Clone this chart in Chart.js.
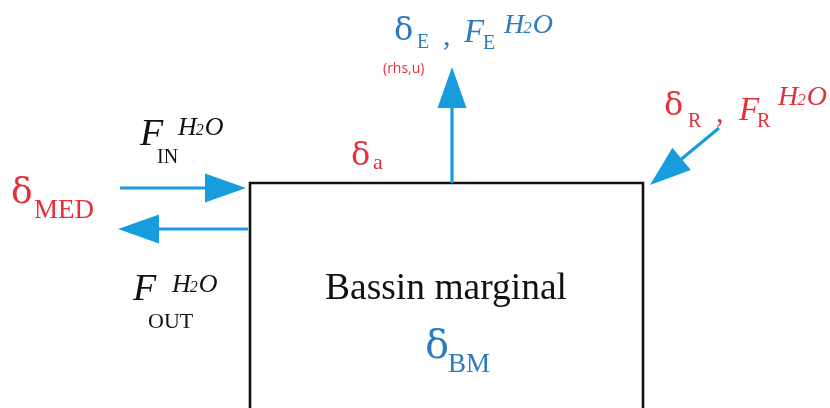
<!DOCTYPE html>
<html>
<head>
<meta charset="utf-8">
<script src="https://cdn.jsdelivr.net/npm/chart.js@4"></script>
<style>
  html, body { margin: 0; padding: 0; background: #fff; }
  #wrap { width: 830px; height: 408px; position: relative; }
</style>
</head>
<body>
<div id="wrap"><canvas id="diagram"></canvas></div>
<script>
// Diagram coordinates are in "picture units" (0..830 by 0..408, y downwards)
// mapped through the chart's own linear scales.

// basin box: top edge with both sides running down past the bottom
const boxX = [250, 250, 643, 643];
const boxY = [412, 183, 183, 412];

// water flux arrows (start -> tip)
const arrowNames = ['in', 'out', 'evap', 'river'];
const arrowX0 = [120, 248, 452, 719];
const arrowY0 = [188, 229, 183, 128];
const arrowX1 = [246, 118, 452, 650];
const arrowY1 = [188, 229, 67, 185];

// label pieces (text anchored at left / baseline)
const labelText  = ['δ', 'E', ',', 'F', 'E', 'H2O', '(rhs,u)',
                    'δ', 'R', ',', 'F', 'R', 'H2O',
                    'F', 'IN', 'H2O',
                    'δ', 'MED',
                    'F', 'H2O', 'OUT',
                    'δ', 'a',
                    'Bassin marginal', 'δ', 'BM'];
const labelX     = [394, 417, 443, 464, 483, 504, 383,
                    664, 688, 716, 739, 757, 778,
                    140, 157, 178,
                    11, 34,
                    133, 172, 148,
                    351, 373,
                    325, 425, 448];
const labelY     = [40, 48, 45, 42, 49, 33, 73,
                    115, 127, 122, 120, 127, 105,
                    145, 163, 135,
                    203, 218,
                    300, 292, 328,
                    165, 169,
                    299, 358, 372];
const labelSize  = [32, 20, 30, 33, 20, 28, 14,
                    32, 20, 30, 33, 20, 28,
                    38, 20, 26,
                    36, 27,
                    38, 26, 22,
                    32, 22,
                    37.5, 40, 27];
const labelItalic = [0, 0, 0, 1, 0, 1, 0,
                     0, 0, 0, 1, 0, 1,
                     1, 0, 1,
                     0, 0,
                     1, 1, 0,
                     0, 0,
                     0, 0, 0];
const labelColor = ['blue', 'blue', 'blue', 'blue', 'blue', 'blue', 'red',
                    'red', 'red', 'red', 'red', 'red', 'red',
                    'black', 'black', 'black',
                    'red', 'red',
                    'black', 'black', 'black',
                    'red', 'red',
                    'black', 'blue', 'blue'];

const COLORS = { blue: '#2a7bbf', red: '#e3303b', black: '#111111', arrow: '#179ddd' };
const SERIF = '"Liberation Serif", "Times New Roman", serif';

// draws H2O with a small "2" between the letters
function drawWater(ctx, x, y, size) {
    const big = 'italic ' + size + 'px ' + SERIF;
    const small = 'italic ' + Math.round(size * 0.6) + 'px ' + SERIF;
    ctx.font = big; ctx.fillText('H', x, y); x += ctx.measureText('H').width;
    ctx.font = small; ctx.fillText('2', x - 1, y); x += ctx.measureText('2').width;
    ctx.font = big; ctx.fillText('O', x, y);
}

const diagramPlugin = {
    id: 'diagram',
    afterDatasetsDraw(chart) {
        const ctx = chart.ctx;
        const sx = chart.scales.x, sy = chart.scales.y;
        ctx.save();

        // arrows
        arrowNames.forEach((name, i) => {
            const x0 = sx.getPixelForValue(arrowX0[i]), y0 = sy.getPixelForValue(arrowY0[i]);
            const x1 = sx.getPixelForValue(arrowX1[i]), y1 = sy.getPixelForValue(arrowY1[i]);
            const len = Math.hypot(x1 - x0, y1 - y0);
            const ux = (x1 - x0) / len, uy = (y1 - y0) / len;
            const headLen = 41, headHalf = 14.5;
            const bx = x1 - ux * headLen, by = y1 - uy * headLen;

            ctx.strokeStyle = COLORS.arrow;
            ctx.lineWidth = 3.2;
            ctx.beginPath();
            ctx.moveTo(x0, y0);
            ctx.lineTo(bx + ux * 4, by + uy * 4);
            ctx.stroke();

            ctx.fillStyle = COLORS.arrow;
            ctx.beginPath();
            ctx.moveTo(x1, y1);
            ctx.lineTo(bx - uy * headHalf, by + ux * headHalf);
            ctx.lineTo(bx + uy * headHalf, by - ux * headHalf);
            ctx.closePath();
            ctx.fill();
        });

        // labels
        ctx.textAlign = 'left';
        ctx.textBaseline = 'alphabetic';
        labelText.forEach((t, i) => {
            const x = sx.getPixelForValue(labelX[i]);
            const y = sy.getPixelForValue(labelY[i]);
            ctx.fillStyle = COLORS[labelColor[i]];
            if (t === 'H2O') {
                drawWater(ctx, x, y, labelSize[i]);
                return;
            }
            if (t === '(rhs,u)') {
                ctx.font = labelSize[i] + 'px "Open Sans", sans-serif';
                ctx.fillText(t, x, y);
            } else if (t === 'δ') {
                // the delta of the original is wider and rounder than Times
                ctx.font = labelSize[i] + 'px "DejaVu Serif", serif';
                ctx.fillText(t, x, y);
            } else {
                ctx.font = (labelItalic[i] ? 'italic ' : '') + labelSize[i] + 'px ' + SERIF;
                ctx.fillText(t, x, y);
            }
        });
        ctx.restore();
    }
};

new Chart(document.getElementById('diagram'), {
    type: 'scatter',
    data: {
        datasets: [{
            label: 'Bassin marginal',
            data: boxX.map((x, i) => ({ x: x, y: boxY[i] })),
            showLine: true,
            borderColor: '#111111',
            borderWidth: 2.6,
            pointRadius: 0,
            fill: false,
            clip: false
        }]
    },
    options: {
        responsive: true,
        maintainAspectRatio: false,
        animation: false,
        layout: { padding: 0 },
        plugins: { legend: { display: false }, tooltip: { enabled: false } },
        scales: {
            x: { type: 'linear', min: 0, max: 830, display: false },
            y: { type: 'linear', min: 0, max: 408, reverse: true, display: false }
        }
    },
    plugins: [diagramPlugin]
});
</script>
</body>
</html>
